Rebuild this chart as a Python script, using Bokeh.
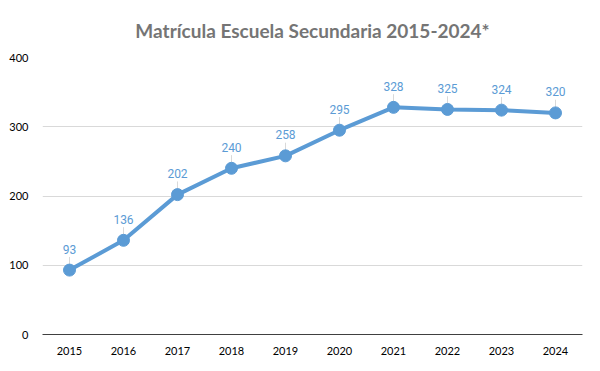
from bokeh.plotting import figure
from bokeh.models import FactorRange, Range1d, ColumnDataSource, FixedTicker
from bokeh.embed import file_html
from bokeh.resources import INLINE
from bokeh.core.properties import value

years = ["2015", "2016", "2017", "2018", "2019", "2020", "2021", "2022", "2023", "2024"]
enrollment = [93, 136, 202, 240, 258, 295, 328, 325, 324, 320]
y_ticks = [0, 100, 200, 300, 400]
title_text = "Matrícula Escuela Secundaria 2015-2024*"

BLUE = "#5b9bd5"

src = ColumnDataSource(dict(
    x=years,
    y=enrollment,
    lbl=[str(v) for v in enrollment],
    ytop=[v + 19 for v in enrollment],
))

p = figure(width=600, height=371, x_range=FactorRange(*years, range_padding=0),
           y_range=Range1d(0, 400), output_backend="svg", toolbar_location=None,
           min_border_left=42, min_border_right=18, min_border_top=56, min_border_bottom=37)

p.title.text = title_text
p.title.align = "center"
p.title.text_font = "Lato"
p.title.text_font_size = "19px"
p.title.text_font_style = "bold"
p.title.text_color = "#757575"
p.title.offset = 0
p.title.standoff = 32

p.outline_line_color = None
p.background_fill_color = "white"
p.border_fill_color = "white"

p.xgrid.grid_line_color = None
p.ygrid.grid_line_color = "#d9d9d9"
p.ygrid.grid_line_width = 1

p.yaxis.ticker = FixedTicker(ticks=y_ticks)
p.yaxis.axis_line_color = None
p.yaxis.major_tick_line_color = None
p.yaxis.minor_tick_line_color = None
p.yaxis.major_label_text_font = "Lato"
p.yaxis.major_label_text_font_size = "11px"
p.yaxis.major_label_text_color = "#000000"
p.yaxis.major_label_standoff = 8

p.xaxis.axis_line_color = "#404040"
p.xaxis.axis_line_width = 1
p.xaxis.major_tick_line_color = None
p.xaxis.minor_tick_line_color = None
p.xaxis.major_label_text_font = "Lato"
p.xaxis.major_label_text_font_size = "11px"
p.xaxis.major_label_text_color = "#000000"
p.xaxis.major_label_standoff = 6

p.segment(x0="x", y0="y", x1="x", y1="ytop", source=src, line_color="#d9d9d9", line_width=1)
p.line(x="x", y="y", source=src, line_color=BLUE, line_width=4)
p.scatter(x="x", y="y", source=src, size=12, fill_color=BLUE, line_color=BLUE)
p.text(x="x", y="y", text="lbl", source=src, text_align="center", text_baseline="alphabetic",
       y_offset=-21, text_font=value("Roboto"), text_font_size="12px", text_color=BLUE)

open("out.html", "w").write(file_html(p, INLINE))
